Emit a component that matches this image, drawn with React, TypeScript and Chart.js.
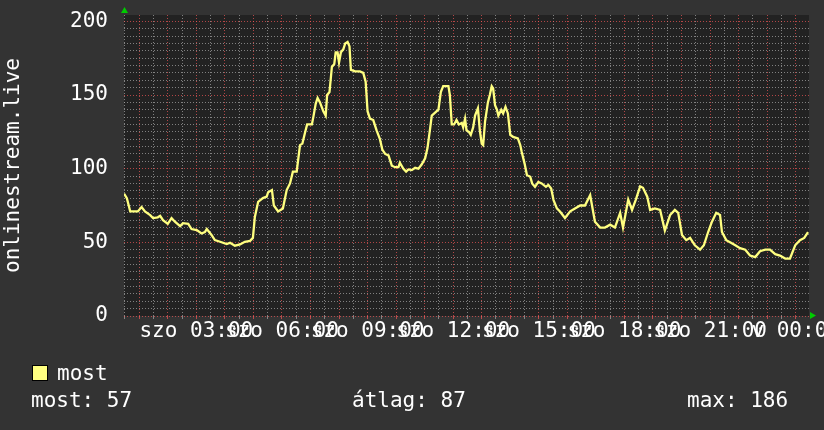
import React, { useEffect, useRef } from "react";
import { Chart, registerables } from "chart.js";

Chart.register(...registerables);

// time in minutes since 00:00 (szombat)
const SAMPLE_MINUTES = [
  28, 34, 41, 57, 65, 72, 83, 89, 99, 104, 110, 120, 128, 135, 146, 152, 163, 170, 181, 191,
  198, 202, 212, 219, 230, 244, 251, 261, 272, 282, 293, 299, 303, 310, 320, 328, 331, 339, 343, 352,
  362, 370, 377, 383, 391, 398, 403, 409, 413, 423, 426, 431, 435, 440, 447, 452, 455, 460, 465, 470,
  473, 477, 480, 484, 489, 493, 498, 502, 505, 514, 524, 531, 536, 540, 545, 552, 559, 566, 571, 577,
  584, 591, 598, 605, 608, 615, 621, 626, 633, 640, 647, 654, 661, 666, 671, 675, 682, 689, 694, 699,
  710, 713, 717, 722, 727, 732, 738, 741, 745, 748, 753, 757, 762, 766, 772, 776, 780, 783, 787, 793,
  797, 801, 804, 808, 812, 815, 821, 825, 830, 835, 840, 846, 856, 861, 864, 870, 875, 882, 886, 892,
  899, 906, 915, 920, 926, 931, 938, 945, 955, 966, 976, 987, 997, 1008, 1018, 1029, 1039, 1050, 1060, 1071,
  1077, 1088, 1096, 1104, 1113, 1119, 1128, 1134, 1144, 1155, 1165, 1176, 1186, 1193, 1201, 1210, 1218, 1228, 1239, 1247,
  1256, 1264, 1273, 1281, 1285, 1294, 1302, 1313, 1323, 1334, 1344, 1355, 1365, 1376, 1386, 1397, 1407, 1418, 1428, 1439,
  1449, 1458, 1466,
];

const MOST_VALUES = [
  83, 80, 71, 71, 74, 71, 68.5, 66.5, 67, 68, 65, 62.5, 66.5, 64, 61, 63, 62.5, 59, 58.3, 56,
  57, 59, 55, 51.5, 50.4, 48.8, 49.7, 47.7, 48.6, 50.4, 51, 53, 67, 77.5, 80, 81, 84, 85.5, 75, 71,
  73, 85.5, 90, 98, 98, 116, 117, 125, 130, 130, 135, 144, 148, 145, 139, 136, 150, 152, 169, 171,
  179, 179, 172, 179, 181, 185, 186, 183, 167, 166, 166, 165, 159, 139, 134, 133, 126, 120, 113, 110,
  109, 102, 101, 101, 104, 100, 98, 99.5, 99, 100.6, 100, 103, 107, 114, 126, 136, 138, 140, 152, 156,
  156, 150, 130, 130, 133, 130, 131, 128, 134, 126, 125, 123, 128, 136, 141, 126, 117, 116, 132, 145,
  150, 156, 154.5, 143, 140, 136, 140, 137.5, 142, 137.5, 123, 121.6, 120.5, 116, 111.5, 103.6, 95.7, 94.5, 90, 87.7,
  91, 90, 87.7, 89, 86.6, 78.7, 73, 70.8, 66.5, 71, 73, 75, 75, 82, 64, 60, 60, 62, 60, 70,
  60, 79, 72, 79, 88, 87, 81, 72, 73, 72, 58, 68.5, 72, 70, 55, 51.5, 53, 48, 45, 48,
  57, 64, 70, 68.5, 57, 51.5, 50, 48, 46, 45, 41, 40, 44, 45, 45, 42, 41, 39, 39, 48,
  51.5, 53, 57,
];

const X_MIN = 28;
const X_MAX = 1468;
const X_LABEL_MINUTES = [180, 360, 540, 720, 900, 1080, 1260, 1440];
const X_LABELS = ["szo 03:00", "szo 06:00", "szo 09:00", "szo 12:00", "szo 15:00", "szo 18:00", "szo 21:00", "v 00:00"];
const Y_MAX = 204.3;
const Y_LABEL_VALUES = [0, 50, 100, 150, 200];

const SERIES_NAME = "most";
const Y_TITLE = "onlinestream.live";
const STAT_MOST = "most: 57";
const STAT_AVG = "átlag: 87";
const STAT_MAX = "max: 186";

const FONT = "'DejaVu Sans Mono', monospace";
const MINOR_GRID = "rgba(160,160,160,0.75)";
const MAJOR_GRID = "rgba(255,90,90,0.65)";

const bgPlugin = {
  id: "rrdbg",
  beforeDraw(chart: any) {
    const { ctx, chartArea: a } = chart;
    ctx.save();
    ctx.fillStyle = "#333333";
    ctx.fillRect(0, 0, chart.width, chart.height);
    ctx.fillStyle = "#222222";
    ctx.fillRect(a.left, a.top, a.right - a.left, a.bottom - a.top);
    ctx.restore();
  },
  afterDraw(chart: any) {
    const { ctx, chartArea: a } = chart;
    ctx.save();
    ctx.fillStyle = "#00cc00";
    ctx.beginPath();
    ctx.moveTo(a.left + 0.5, a.top - 8);
    ctx.lineTo(a.left - 3, a.top - 2);
    ctx.lineTo(a.left + 4, a.top - 2);
    ctx.closePath();
    ctx.fill();
    ctx.beginPath();
    ctx.moveTo(a.right + 7, a.bottom - 0.5);
    ctx.lineTo(a.right + 1, a.bottom - 4);
    ctx.lineTo(a.right + 1, a.bottom + 3);
    ctx.closePath();
    ctx.fill();
    ctx.restore();
  },
};

export default function App() {
  const canvasRef = useRef<HTMLCanvasElement | null>(null);

  useEffect(() => {
    if (!canvasRef.current) return;
    const data = SAMPLE_MINUTES.map((m, i) => ({ x: m, y: MOST_VALUES[i] }));
    const chart = new Chart(canvasRef.current, {
      type: "line",
      data: {
        datasets: [
          {
            label: SERIES_NAME,
            data,
            borderColor: "#ffff80",
            backgroundColor: "#ffff80",
            borderWidth: 2.3,
            pointRadius: 0,
            tension: 0,
          },
        ],
      },
      options: {
        animation: false,
        responsive: false,
        devicePixelRatio: 1,
        layout: { padding: { left: 0, right: 15, top: 15, bottom: 0 } },
        plugins: { legend: { display: false }, tooltip: { enabled: false } },
        scales: {
          x: {
            type: "linear",
            min: X_MIN,
            max: X_MAX,
            afterBuildTicks: (s: any) => {
              const t = [];
              for (let v = 30; v < X_MAX; v += 30) t.push({ value: v });
              s.ticks = t;
            },
            afterFit: (s: any) => {
              s.height = 114;
              s.paddingLeft = 0;
              s.paddingRight = 0;
            },
            border: { display: false, dash: [1, 2] },
            grid: {
              color: (c: any) => (c.tick && c.tick.value % 60 === 0 ? MAJOR_GRID : MINOR_GRID),
              drawTicks: true,
              tickLength: 3,
              tickBorderDash: [],
            },
            ticks: {
              autoSkip: false,
              maxRotation: 0,
              minRotation: 0,
              padding: 0,
              color: "#ffffff",
              font: { family: FONT, size: 21 },
              callback: (v: any) => {
                const i = X_LABEL_MINUTES.indexOf(Number(v));
                return i >= 0 ? X_LABELS[i] : "";
              },
            },
          },
          y: {
            min: 0,
            max: Y_MAX,
            afterBuildTicks: (s: any) => {
              const t = [];
              for (let v = 0; v <= 200; v += 5) t.push({ value: v });
              s.ticks = t;
            },
            afterFit: (s: any) => {
              s.width = 124;
              s.paddingTop = 0;
              s.paddingBottom = 0;
            },
            border: { display: false, dash: [1, 2] },
            grid: {
              color: (c: any) => (c.tick && c.tick.value % 50 === 0 ? MAJOR_GRID : MINOR_GRID),
              drawTicks: false,
            },
            ticks: {
              autoSkip: false,
              padding: 16,
              color: "#ffffff",
              font: { family: FONT, size: 21 },
              callback: (v: any) => (Y_LABEL_VALUES.includes(Number(v)) ? String(v) : ""),
            },
            title: {
              display: true,
              text: Y_TITLE,
              color: "#ffffff",
              font: { family: FONT, size: 21 },
              padding: { top: 1, bottom: 0 },
            },
          },
        },
      },
      plugins: [bgPlugin],
    });
    return () => chart.destroy();
  }, []);

  const textStyle: React.CSSProperties = {
    position: "absolute",
    fontFamily: FONT,
    fontSize: "21px",
    lineHeight: "21px",
    color: "#ffffff",
    whiteSpace: "pre",
  };

  return (
    <div style={{ position: "absolute", left: 0, top: 0, width: 824, height: 430, background: "#333333", overflow: "hidden" }}>
      <canvas ref={canvasRef} width={824} height={430} style={{ position: "absolute", left: 0, top: 0 }} />
      <div
        style={{
          position: "absolute",
          left: 32,
          top: 365,
          width: 14,
          height: 14,
          background: "#ffff80",
          border: "1px solid #000000",
        }}
      />
      <span style={{ ...textStyle, left: 57, top: 363 }}>{SERIES_NAME}</span>
      <span style={{ ...textStyle, left: 31, top: 390 }}>{STAT_MOST}</span>
      <span style={{ ...textStyle, left: 352, top: 390 }}>{STAT_AVG}</span>
      <span style={{ ...textStyle, left: 687, top: 390 }}>{STAT_MAX}</span>
    </div>
  );
}
